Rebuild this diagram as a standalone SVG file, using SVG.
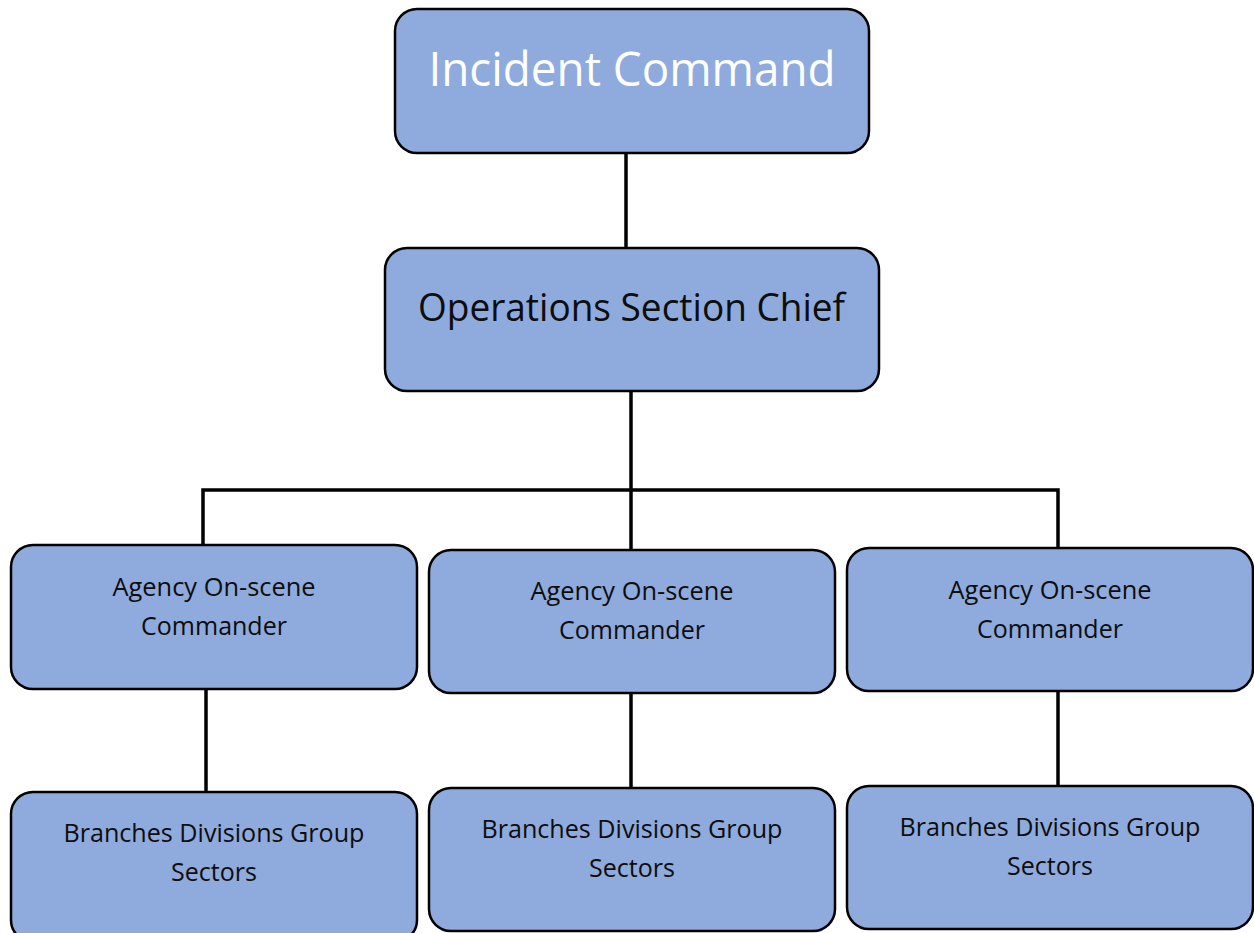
<svg xmlns="http://www.w3.org/2000/svg" width="1254" height="933" viewBox="0 0 1254 933">
<style>
.box{fill:#8FAADC;stroke:#000;stroke-width:2.5}
.t{font-family:"Open Sans","Noto Sans",sans-serif;fill:#0d0d0d;text-anchor:middle}
.s{font-size:25px}
.conn{stroke:#000;stroke-width:3.5;fill:none}
</style>
<rect width="1254" height="933" fill="#fff"/>
<g id="connectors">
<line class="conn" x1="626" y1="153" x2="626" y2="248"/>
<line class="conn" x1="631" y1="391" x2="631" y2="549"/>
<polyline class="conn" points="203,545 203,490 1058,490 1058,548"/>
<line class="conn" x1="206" y1="689" x2="206" y2="792"/>
<line class="conn" x1="631" y1="693" x2="631" y2="788"/>
<line class="conn" x1="1058" y1="691" x2="1058" y2="786"/>
</g>
<g id="incident-command">
<rect class="box" x="395" y="9" width="474" height="144" rx="22"/>
<text class="t" x="632" y="86" font-size="48" fill="#fff" style="fill:#fff" textLength="407" lengthAdjust="spacingAndGlyphs">Incident Command</text>
</g>
<g id="operations">
<rect class="box" x="385" y="248" width="494" height="143" rx="22"/>
<text class="t" x="631.5" y="321" font-size="38" textLength="427" lengthAdjust="spacingAndGlyphs">Operations Section Chief</text>
</g>
<g id="agency1">
<rect class="box" x="11" y="545" width="406" height="144" rx="22"/>
<text class="t s" x="214" y="596" textLength="203" lengthAdjust="spacingAndGlyphs">Agency On-scene</text>
<text class="t s" x="214" y="635">Commander</text>
</g>
<g id="agency2">
<rect class="box" x="429" y="550" width="406" height="143" rx="22"/>
<text class="t s" x="632" y="600" textLength="203" lengthAdjust="spacingAndGlyphs">Agency On-scene</text>
<text class="t s" x="632" y="639">Commander</text>
</g>
<g id="agency3">
<rect class="box" x="847" y="548" width="406" height="143" rx="22"/>
<text class="t s" x="1050" y="599" textLength="203" lengthAdjust="spacingAndGlyphs">Agency On-scene</text>
<text class="t s" x="1050" y="638">Commander</text>
</g>
<g id="branches1">
<rect class="box" x="11" y="792" width="406" height="150" rx="22"/>
<text class="t s" x="214" y="842" textLength="301" lengthAdjust="spacingAndGlyphs">Branches Divisions Group</text>
<text class="t s" x="214" y="881">Sectors</text>
</g>
<g id="branches2">
<rect class="box" x="429" y="788" width="406" height="143" rx="22"/>
<text class="t s" x="632" y="838" textLength="301" lengthAdjust="spacingAndGlyphs">Branches Divisions Group</text>
<text class="t s" x="632" y="877">Sectors</text>
</g>
<g id="branches3">
<rect class="box" x="847" y="786" width="406" height="143" rx="22"/>
<text class="t s" x="1050" y="836" textLength="301" lengthAdjust="spacingAndGlyphs">Branches Divisions Group</text>
<text class="t s" x="1050" y="875">Sectors</text>
</g>
</svg>
